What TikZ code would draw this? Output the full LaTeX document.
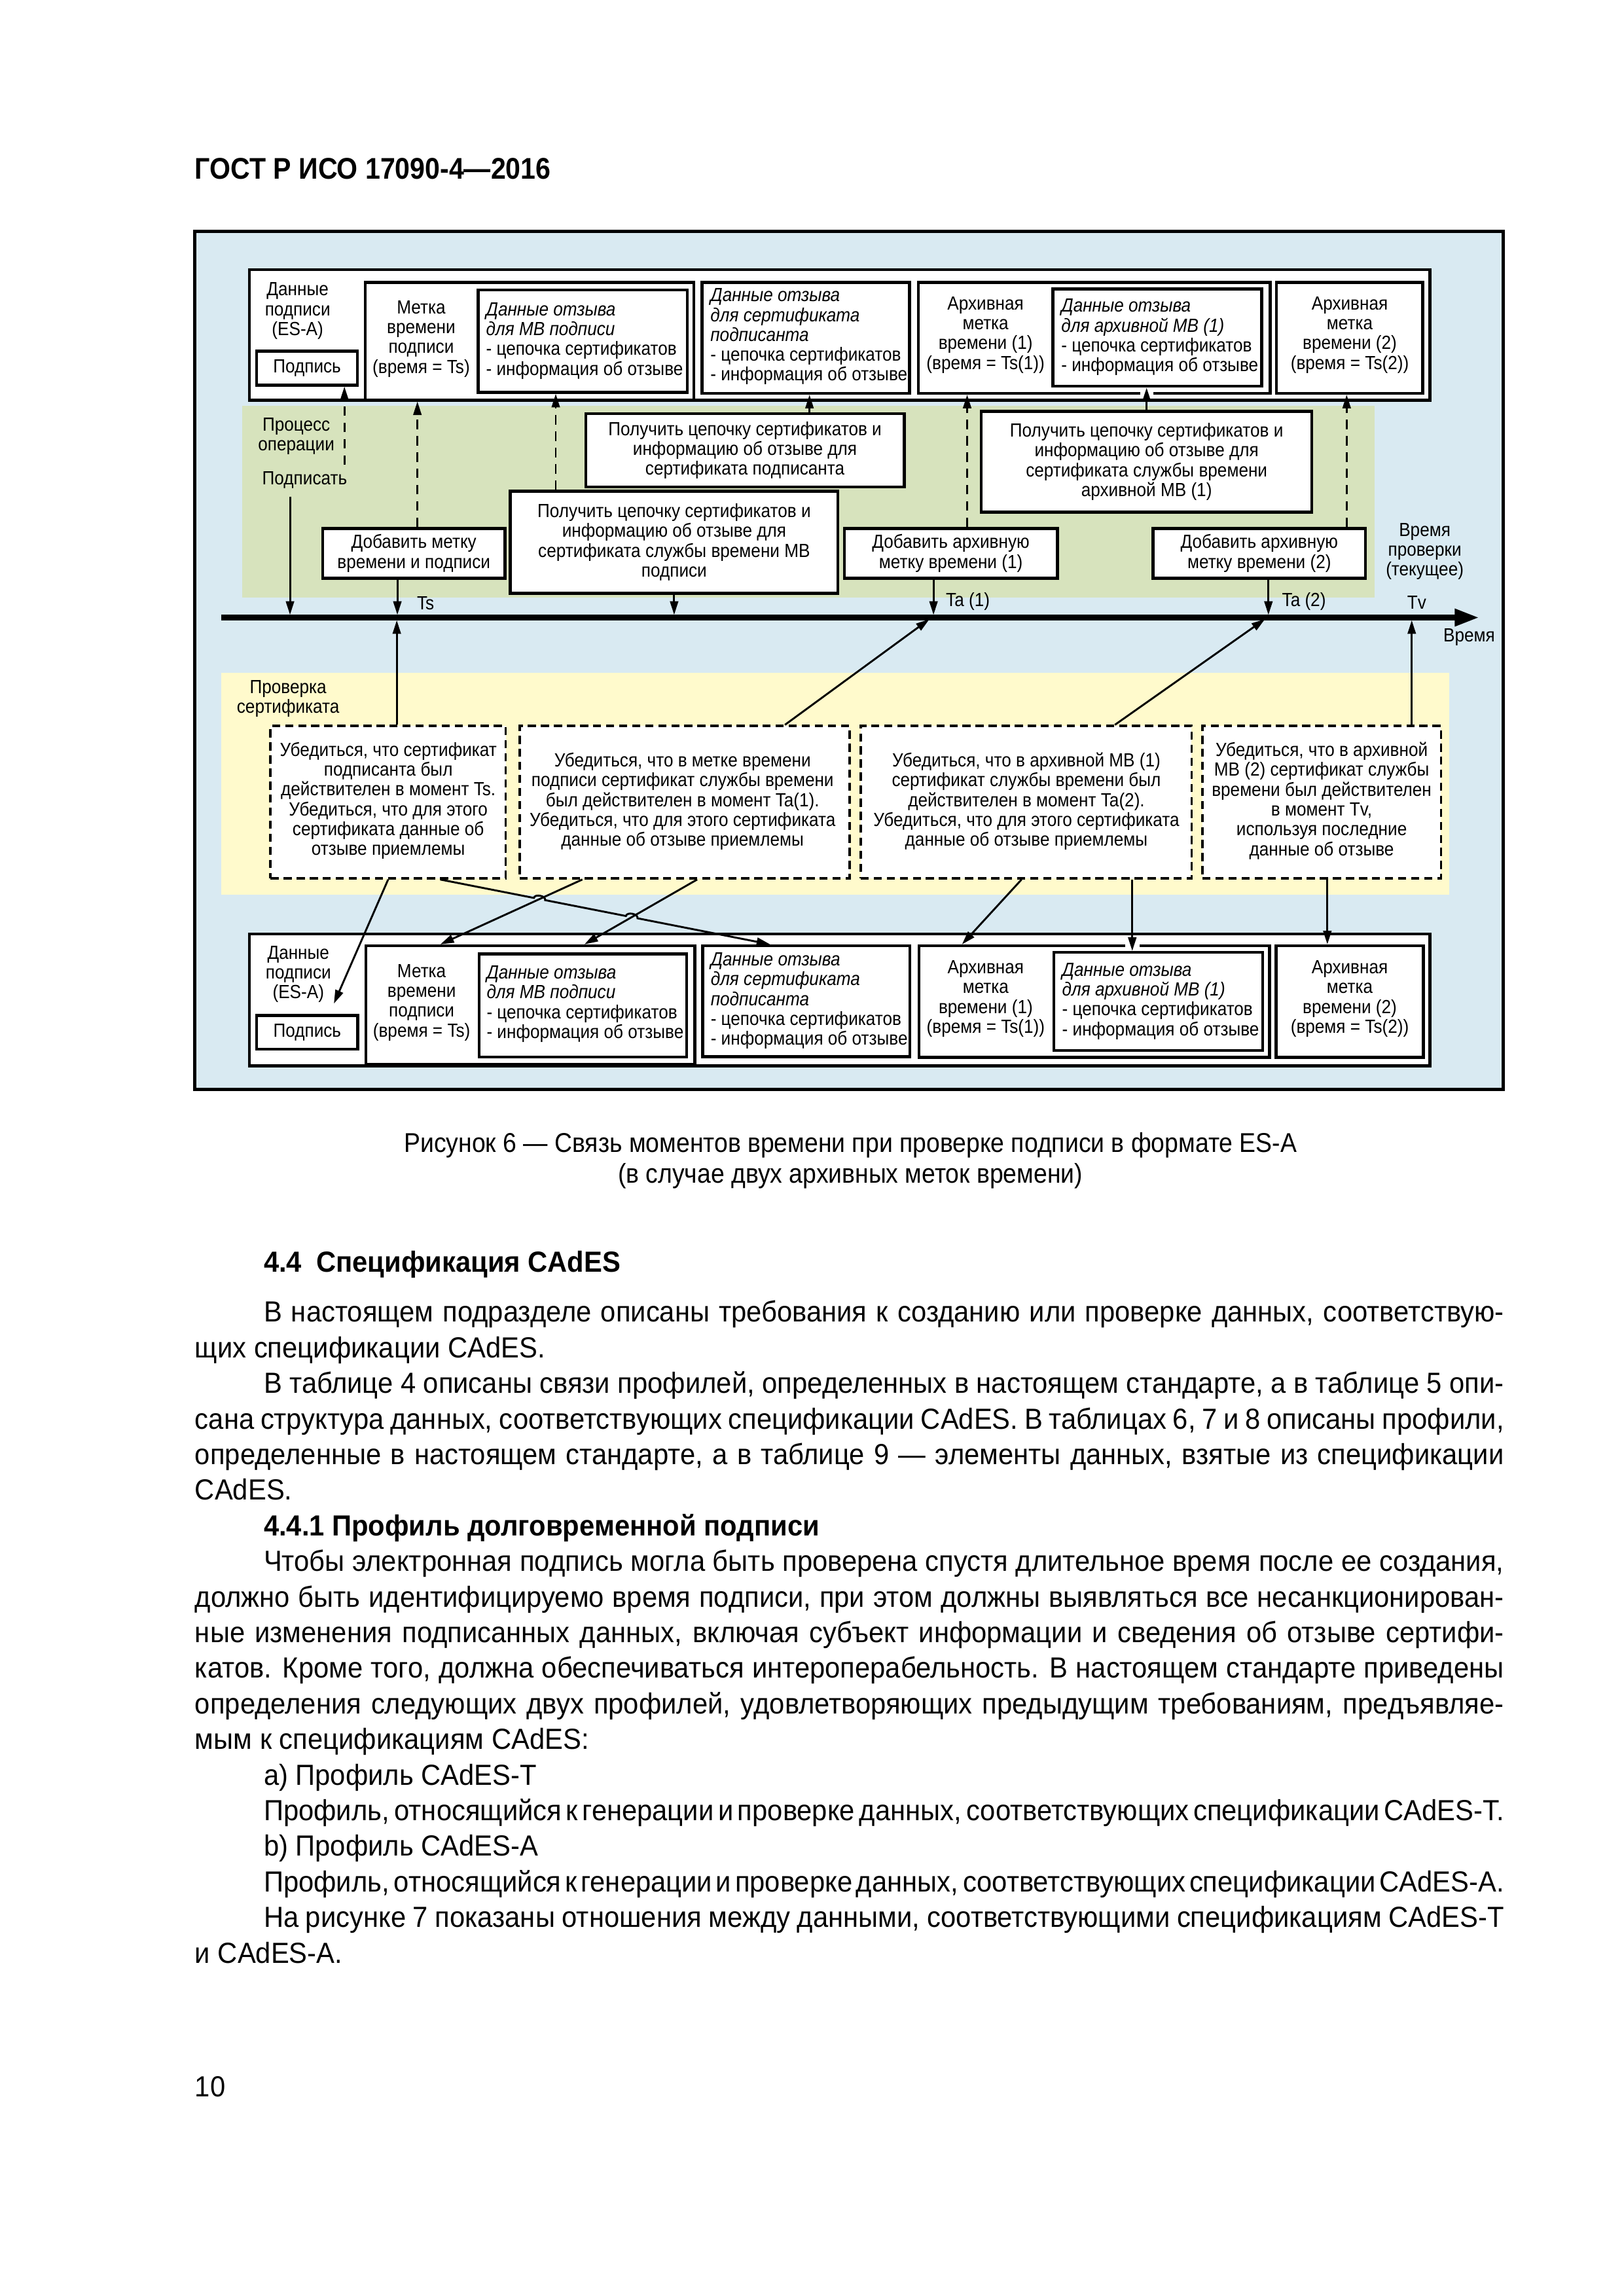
\documentclass[tikz,border=0pt]{standalone}
\usepackage{fontspec}
\setmainfont{Liberation Sans}
\newfontfamily\narrowfont[FakeStretch=0.9]{Liberation Sans}
\newfontfamily\bodyfont[FakeStretch=0.94]{Liberation Sans}
\usetikzlibrary{arrows.meta,fit,calc}
\definecolor{framebg}{RGB}{217,234,242}
\definecolor{procbg}{RGB}{215,227,189}
\definecolor{checkbg}{RGB}{255,250,204}
\newcommand{\fullline}[1]{\hbox to 481.8pt{\spaceskip=0.278em plus 0.2em minus 0.17em #1}}
\newcommand{\indline}[1]{\hbox to 456.5pt{\spaceskip=0.278em plus 0.2em minus 0.17em #1}}

\begin{document}
\begin{tikzpicture}[x=0.0189189cm, y=-0.0189189cm,
  dtxt/.style={font=\narrowfont\fontsize{7}{7.3}\selectfont, align=center, inner sep=0pt},
  ltxt/.style={dtxt, align=left, anchor=west},
  box/.style={draw, line width=1.1pt, fill=white, inner sep=0pt},
  chkbox/.style={draw, line width=0.9pt, dash pattern=on 3pt off 1.8pt, fill=white, inner sep=0pt},
  zone/.style={inner sep=0pt, draw=none},
  arr/.style={line width=0.7pt, -{Triangle[length=5pt,width=3pt]}},
  darr/.style={arr, dash pattern=on 3.5pt off 2.5pt},
  body/.style={font=\bodyfont\fontsize{10.7}{13}\selectfont, anchor=base west, inner sep=0pt},
  bhead/.style={body, font=\bodyfont\bfseries\fontsize{10.7}{13}\selectfont},
]
\useasboundingbox (0,0) rectangle (1110,1570.1);

% page head
\node[anchor=base west, inner sep=0pt, font=\narrowfont\bfseries\fontsize{11}{13}\selectfont] (head) at (133,122.5) {ГОСТ Р ИСО 17090-4—2016};

% background zones
\node[inner sep=0pt, draw, line width=1.2pt, fill=framebg, fit={(133,158) (1028,745)}] (frame) {};
\node[zone, fill=procbg, fit={(165.5,277.5) (940,408.5)}] (proc) {};
\node[zone, fill=checkbg, fit={(151.5,460.3) (991,611.8)}] (check) {};

% top row
\node[box, fit={(170.5,184.3) (977.6,273.8)}] (topRow) {};
\node[dtxt] (topEsa) at (203.5,212.6) {Данные\\подписи\\(ES-A)};
\node[box, fit={(175.5,240.2) (244.4,263.3)}] (topSig) {};
\node[dtxt] (topSigTxt) at (topSig.center) {Подпись};
\node[box, fit={(249.7,193.2) (474.5,273.5)}] (topTs) {};
\node[dtxt] (topTsTxt) at (288,231.7) {Метка\\времени\\подписи\\(время = Ts)};
\node[box, fit={(327,198.3) (470,268.3)}] (topTsRev) {};
\node[ltxt] (topTsRevTxt) at (332,233) {\textit{Данные отзыва}\\\textit{для МВ подписи}\\- цепочка сертификатов\\- информация об отзыве};
\node[box, fit={(479.9,193.2) (621.8,268.9)}] (topSigner) {};
\node[ltxt] (topSignerTxt) at (485.4,230.2) {\textit{Данные отзыва}\\\textit{для сертификата}\\\textit{подписанта}\\- цепочка сертификатов\\- информация об отзыве};
\node[box, fit={(627.9,193.2) (868.4,268.9)}] (topArch1) {};
\node[dtxt] (topArch1Txt) at (673.9,229) {Архивная\\метка\\времени (1)\\(время = Ts(1))};
\node[box, fit={(719.8,197.7) (862.6,264.1)}] (topArch1Rev) {};
\node[ltxt] (topArch1RevTxt) at (725.3,230.6) {\textit{Данные отзыва}\\\textit{для архивной МВ (1)}\\- цепочка сертификатов\\- информация об отзыве};
\node[box, fit={(872.8,193.2) (972.9,268.9)}] (topArch2) {};
\node[dtxt] (topArch2Txt) at (922.9,229) {Архивная\\метка\\времени (2)\\(время = Ts(2))};

% operation process
\node[dtxt] (procLbl) at (202.6,298.4) {Процесс\\операции};
\node[dtxt] (signLbl) at (208.3,328.3) {Подписать};
\node[box, fit={(220.6,361.4) (345.3,395.4)}] (addTs) {};
\node[dtxt] (addTsTxt) at (addTs.center) {Добавить метку\\времени и подписи};
\node[box, fit={(349,336) (572.9,405.6)}] (getTsCert) {};
\node[dtxt] (getTsCertTxt) at (getTsCert.center) {Получить цепочку сертификатов и\\информацию об отзыве для\\сертификата службы времени МВ\\подписи};
\node[box, fit={(400.5,282.8) (618.2,333)}] (getSignerCert) {};
\node[dtxt] (getSignerCertTxt) at (getSignerCert.center) {Получить цепочку сертификатов и\\информацию об отзыве для\\сертификата подписанта};
\node[box, fit={(577.3,361.4) (723,395.4)}] (addA1) {};
\node[dtxt] (addA1Txt) at (addA1.center) {Добавить архивную\\метку времени (1)};
\node[box, fit={(671,281.3) (897,350.3)}] (getA1Cert) {};
\node[dtxt] (getA1CertTxt) at (getA1Cert.center) {Получить цепочку сертификатов и\\информацию об отзыве для\\сертификата службы времени\\архивной МВ (1)};
\node[box, fit={(788.5,361.4) (933.6,395.4)}] (addA2) {};
\node[dtxt] (addA2Txt) at (addA2.center) {Добавить архивную\\метку времени (2)};
\node[dtxt] (verLbl) at (974.2,377) {Время\\проверки\\(текущее)};

% time axis labels
\coordinate (tl) at (0,422.3);
\coordinate (tlStart) at (151.2,422.3);
\coordinate (tlEnd) at (1011.4,422.3);
\node[dtxt] (lblTs) at (291,412.6) {Ts};
\node[dtxt] (lblTa1) at (661.8,411.5) {Ta (1)};
\node[dtxt] (lblTa2) at (891.6,411.5) {Ta (2)};
\node[dtxt] (lblTv) at (968.7,411.8) {Tv};
\node[dtxt] (lblTime) at (1004.6,435.7) {Время};

% certificate check
\node[dtxt] (chkLbl) at (197,477.8) {Проверка\\сертификата};
\node[chkbox, fit={(185,496.5) (345.8,600.6)}] (chk1) {};
\node[dtxt] (chk1Txt) at (265.5,547.6) {Убедиться, что сертификат\\подписанта был\\действителен в момент Ts.\\Убедиться, что для этого\\сертификата данные об\\отзыве приемлемы};
\node[chkbox, fit={(355.3,496.5) (580.8,600.6)}] (chk2) {};
\node[dtxt] (chk2Txt) at (466.7,548) {Убедиться, что в метке времени\\подписи сертификат службы времени\\был действителен в момент Ta(1).\\Убедиться, что для этого сертификата\\данные об отзыве приемлемы};
\node[chkbox, fit={(588.5,496.5) (814.8,600.6)}] (chk3) {};
\node[dtxt] (chk3Txt) at (701.8,548) {Убедиться, что в архивной МВ (1)\\сертификат службы времени был\\действителен в момент Ta(2).\\Убедиться, что для этого сертификата\\данные об отзыве приемлемы};
\node[chkbox, fit={(822.2,496.5) (985.3,600.6)}] (chk4) {};
\node[dtxt] (chk4Txt) at (903.7,547.6) {Убедиться, что в архивной\\МВ (2) сертификат службы\\времени был действителен\\в момент Tv,\\используя последние\\данные об отзыве};

% bottom row
\node[box, fit={(170.6,638.6) (977.8,728.8)}] (botRow) {};
\node[dtxt] (botEsa) at (204,666.2) {Данные\\подписи\\(ES-A)};
\node[box, fit={(175.5,694.3) (244.6,717.4)}] (botSig) {};
\node[dtxt] (botSigTxt) at (botSig.center) {Подпись};
\node[box, fit={(250.2,646.8) (475.2,728)}] (botTs) {};
\node[dtxt] (botTsTxt) at (288.3,685.6) {Метка\\времени\\подписи\\(время = Ts)};
\node[box, fit={(327.7,652.3) (469.6,722.9)}] (botTsRev) {};
\node[ltxt] (botTsRevTxt) at (332.4,686.6) {\textit{Данные отзыва}\\\textit{для МВ подписи}\\- цепочка сертификатов\\- информация об отзыве};
\node[box, fit={(480.4,646.8) (622.1,722.5)}] (botSigner) {};
\node[ltxt] (botSignerTxt) at (485.6,684.4) {\textit{Данные отзыва}\\\textit{для сертификата}\\\textit{подписанта}\\- цепочка сертификатов\\- информация об отзыве};
\node[box, fit={(628.3,646.8) (868,723)}] (botArch1) {};
\node[dtxt] (botArch1Txt) at (674,683) {Архивная\\метка\\времени (1)\\(время = Ts(1))};
\node[box, fit={(720.5,651.3) (863.3,718.4)}] (botArch1Rev) {};
\node[ltxt] (botArch1RevTxt) at (725.9,684.7) {\textit{Данные отзыва}\\\textit{для архивной МВ (1)}\\- цепочка сертификатов\\- информация об отзыве};
\node[box, fit={(872.5,646.8) (973.2,723)}] (botArch2) {};
\node[dtxt] (botArch2Txt) at (922.9,683) {Архивная\\метка\\времени (2)\\(время = Ts(2))};

% arrows: process -> top row
\coordinate (opStart) at (235.5,317.8);
\coordinate (signStart) at (198.3,339.5);
\draw[darr] (opStart) -- (topSig.south -| 235.5,0);
\draw[darr] (addTs.north -| 285.4,0) -- (topTs.south -| 285.4,0);
\draw[darr] (getTsCert.north -| 380,0) -- (topTsRev.south -| 380,0);
\draw[arr] (getSignerCert.north -| 553.5,0) -- (topSigner.south -| 553.5,0);
\draw[darr] (addA1.north -| 661.3,0) -- (topArch1.south -| 661.3,0);
\draw[white, line width=2pt] (779.5,268.9) -- (788.5,268.9);
\draw[arr] (getA1Cert.north -| 784,0) -- (topArch1Rev.south -| 784,0);
\draw[darr] (addA2.north -| 920.8,0) -- (topArch2.south -| 920.8,0);

% arrows: process -> time axis
\draw[arr, shorten >=1pt] (signStart) -- (tl -| 198.3,0);
\draw[arr, shorten >=1pt] (addTs.south -| 271.7,0) -- (tl -| 271.7,0);
\draw[arr, shorten >=1pt] (getTsCert.south) -- (getTsCert.south |- tl);
\draw[arr, shorten >=1pt] (addA1.south -| 638.3,0) -- (tl -| 638.3,0);
\draw[arr, shorten >=1pt] (addA2.south -| 867.3,0) -- (tl -| 867.3,0);

% arrows: check -> time axis
\draw[arr, shorten >=1pt] (chk1.north -| 271.3,0) -- (tl -| 271.3,0);
\draw[arr, shorten >=1pt] (chk2.north -| 536.7,0) -- (tl -| 637,0);
\draw[arr, shorten >=1pt] (chk3.north -| 762.3,0) -- (tl -| 866.5,0);
\draw[arr, shorten >=1pt] (chk4.north -| 965.3,0) -- (tl -| 965.3,0);

% time axis
\draw[line width=2.1pt, -{Triangle[length=9pt,width=6pt]}] (tlStart) -- (tlEnd);

% arrows: check -> bottom row
\coordinate (esaIn) at (228.3,686.3);
\coordinate (lA) at (chk1.south -| 301,0);
\coordinate (lB) at (botSigner.north -| 526.6,0);
\draw[arr] (chk1.south -| 265.4,0) -- (esaIn);
\draw[arr] (lA) -- ($(lA)!0.284!(lB)$) to[bend left=90] ($(lA)!0.318!(lB)$) -- ($(lA)!0.563!(lB)$) to[bend left=90] ($(lA)!0.598!(lB)$) -- (lB);
\draw[arr] (chk2.south -| 398.2,0) -- (botTs.north -| 301.1,0);
\draw[arr] (chk2.south -| 476.7,0) -- (botTs.north -| 399.6,0);
\draw[arr] (chk3.south -| 698.5,0) -- (botArch1.north -| 657.8,0);
\draw[white, line width=2pt] (769.5,646.8) -- (779,646.8);
\draw[arr] (chk3.south -| 774.2,0) -- (botArch1Rev.north -| 774.2,0);
\draw[arr] (chk4.south -| 907.6,0) -- (botArch2.north -| 907.6,0);

% caption
\node[font=\narrowfont\fontsize{10}{11.3}\selectfont, align=center, inner sep=0pt] (caption) at (581.5,793.5) {Рисунок 6 — Связь моментов времени при проверке подписи в формате ES-A\\(в случае двух архивных меток времени)};

% text of the page
\node[bhead] (h44) at (180,870) {4.4\hspace{0.5em}Спецификация CAdES};
\node[body] (t01) at (180,904) {\indline{В настоящем подразделе описаны требования к созданию или проверке данных, соответствую-}};
\node[body] (t02) at (133,928.35) {щих спецификации CAdES.};
\node[body] (t03) at (180,952.7) {\indline{В таблице 4 описаны связи профилей, определенных в настоящем стандарте, а в таблице 5 опи-}};
\node[body] (t04) at (133,977.05) {\fullline{сана структура данных, соответствующих спецификации CAdES. В таблицах 6, 7 и 8 описаны профили,}};
\node[body] (t05) at (133,1001.4) {\fullline{определенные в настоящем стандарте, а в таблице 9 — элементы данных, взятые из спецификации}};
\node[body] (t06) at (133,1025.75) {CAdES.};
\node[bhead] (h441) at (180,1050.1) {4.4.1 Профиль долговременной подписи};
\node[body] (t07) at (180,1074.45) {\indline{Чтобы электронная подпись могла быть проверена спустя длительное время после ее создания,}};
\node[body] (t08) at (133,1098.8) {\fullline{должно быть идентифицируемо время подписи, при этом должны выявляться все несанкционирован-}};
\node[body] (t09) at (133,1123.15) {\fullline{ные изменения подписанных данных, включая субъект информации и сведения об отзыве сертифи-}};
\node[body] (t10) at (133,1147.5) {\fullline{катов. Кроме того, должна обеспечиваться интероперабельность. В настоящем стандарте приведены}};
\node[body] (t11) at (133,1171.85) {\fullline{определения следующих двух профилей, удовлетворяющих предыдущим требованиям, предъявляе-}};
\node[body] (t12) at (133,1196.2) {мым к спецификациям CAdES:};
\node[body] (t13) at (180,1220.55) {a) Профиль CAdES-T};
\node[body] (t14) at (180,1244.9) {\indline{Профиль, относящийся к генерации и проверке данных, соответствующих спецификации CAdES-T.}};
\node[body] (t15) at (180,1269.25) {b) Профиль CAdES-A};
\node[body] (t16) at (180,1293.6) {\indline{Профиль, относящийся к генерации и проверке данных, соответствующих спецификации CAdES-A.}};
\node[body] (t17) at (180,1317.95) {\indline{На рисунке 7 показаны отношения между данными, соответствующими спецификациям CAdES-T}};
\node[body] (t18) at (133,1342.3) {и CAdES-A.};

% page number
\node[body] (pageNo) at (133,1434) {10};
\end{tikzpicture}
\end{document}
